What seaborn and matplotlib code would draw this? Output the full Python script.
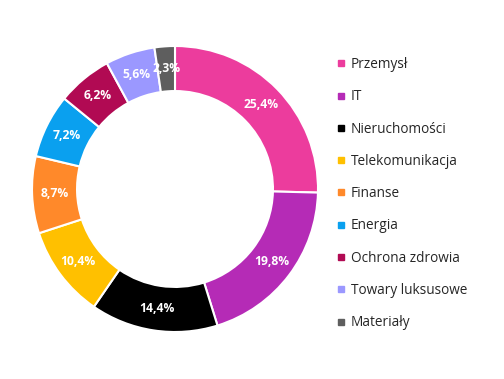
import matplotlib
matplotlib.use("Agg")
import matplotlib.pyplot as plt
import seaborn as sns
import numpy as np
from matplotlib.lines import Line2D

categories = ["Przemysł", "IT", "Nieruchomości", "Telekomunikacja", "Finanse",
              "Energia", "Ochrona zdrowia", "Towary luksusowe", "Materiały"]
values = [25.4, 19.8, 14.4, 10.4, 8.7, 7.2, 6.2, 5.6, 2.3]
labels = ["25,4%", "19,8%", "14,4%", "10,4%", "8,7%", "7,2%", "6,2%", "5,6%", "2,3%"]
colors = ["#EC3C9D", "#B52BB6", "#000000", "#FFC000", "#FF892A",
          "#0AA0EF", "#B10A53", "#9B98FF", "#5E5E5E"]

sns.set_theme(style="white")
plt.rcParams['font.family'] = ['Open Sans', 'DejaVu Sans']
palette = sns.color_palette(colors)

W, H = 504, 379
fig = plt.figure(figsize=(W / 100, H / 100), dpi=100)
cx, cy, R = 175, 189, 143
ax = fig.add_axes([(cx - R) / W, (H - cy - R) / H, 2 * R / W, 2 * R / H])

wedges, _ = ax.pie(values, colors=palette, startangle=90, counterclock=False,
                   radius=1.0, wedgeprops=dict(width=0.315, edgecolor="white", linewidth=1.5))
ang = 90.0
for v, lab in zip(values, labels):
    mid = ang - v * 3.6 / 2
    ang -= v * 3.6
    r = 0.845
    ax.text(r * np.cos(np.radians(mid)), r * np.sin(np.radians(mid)), lab,
            ha="center", va="center", color="white", fontsize=8.7, fontweight="bold")
ax.set_xlim(-1, 1)
ax.set_ylim(-1, 1)
ax.set_aspect("equal")
ax.axis("off")

handles = [Line2D([0], [0], marker="s", linestyle="none", markersize=4.3,
                  markerfacecolor=c, markeredgecolor=c) for c in colors]
fig.legend(handles, categories, loc="upper left", bbox_to_anchor=(335 / W, 1 - 57 / H),
           frameon=False, fontsize=9.8, labelspacing=1.27, handlelength=0.85,
           handletextpad=0.3, borderaxespad=0, borderpad=0)

fig.savefig("out.png", dpi=100, facecolor="white")
